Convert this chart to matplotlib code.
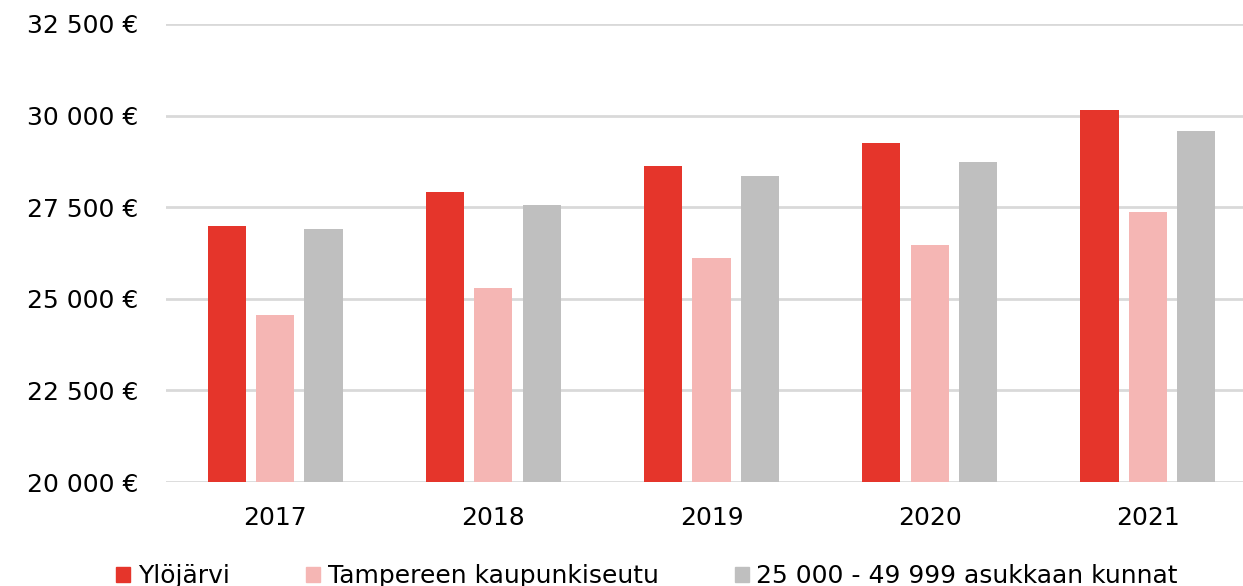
import matplotlib
matplotlib.use("Agg")
import matplotlib.pyplot as plt
import numpy as np
from matplotlib.patches import Patch

years = ["2017", "2018", "2019", "2020", "2021"]
series_names = ["Ylöjärvi", "Tampereen kaupunkiseutu", "25 000 - 49 999 asukkaan kunnat"]
ylojarvi = [27000, 27920, 28630, 29260, 30160]
tampere = [24560, 25300, 26120, 26470, 27380]
kunnat = [26910, 27570, 28360, 28740, 29590]
colors = ["#E5352B", "#F5B6B4", "#BFBFBF"]
yticks = [20000, 22500, 25000, 27500, 30000, 32500]

plt.rcParams['font.family'] = ['DejaVu Sans']

fig = plt.figure(figsize=(12.43, 5.86), dpi=100)
ax = fig.add_axes([166/1243, 104/586, (1257-166)/1243, (482-24)/586])

x = np.arange(len(years))
w = 0.175
off = 0.222
for i, (vals, c) in enumerate(zip([ylojarvi, tampere, kunnat], colors)):
    ax.bar(x + (i - 1) * off, [v - 20000 for v in vals], bottom=20000, width=w,
           color=c, zorder=3, label=series_names[i])

ax.set_xlim(-0.5, 4.5)
ax.set_ylim(20000, 32500)
ax.set_yticks(yticks)
ax.set_yticklabels([f"{v:,}".replace(",", " ") + " €" for v in yticks], fontsize=18)
ax.set_xticks(x)
ax.set_xticklabels(years, fontsize=18)
ax.grid(axis='y', color='#D9D9D9', linewidth=2, zorder=0)
for s in ax.spines.values():
    s.set_visible(False)
ax.tick_params(axis='both', length=0)
ax.tick_params(axis='y', pad=20)
ax.tick_params(axis='x', pad=17)

handles = [Patch(color=c) for c in colors]
fig.legend(handles, series_names, loc='center', bbox_to_anchor=(647/1243, 10/586),
           ncol=3, frameon=False, fontsize=18, handlelength=0.56, handleheight=0.56,
           handletextpad=0.3, columnspacing=3.05, borderpad=0)

fig.savefig("out.png", dpi=100)
